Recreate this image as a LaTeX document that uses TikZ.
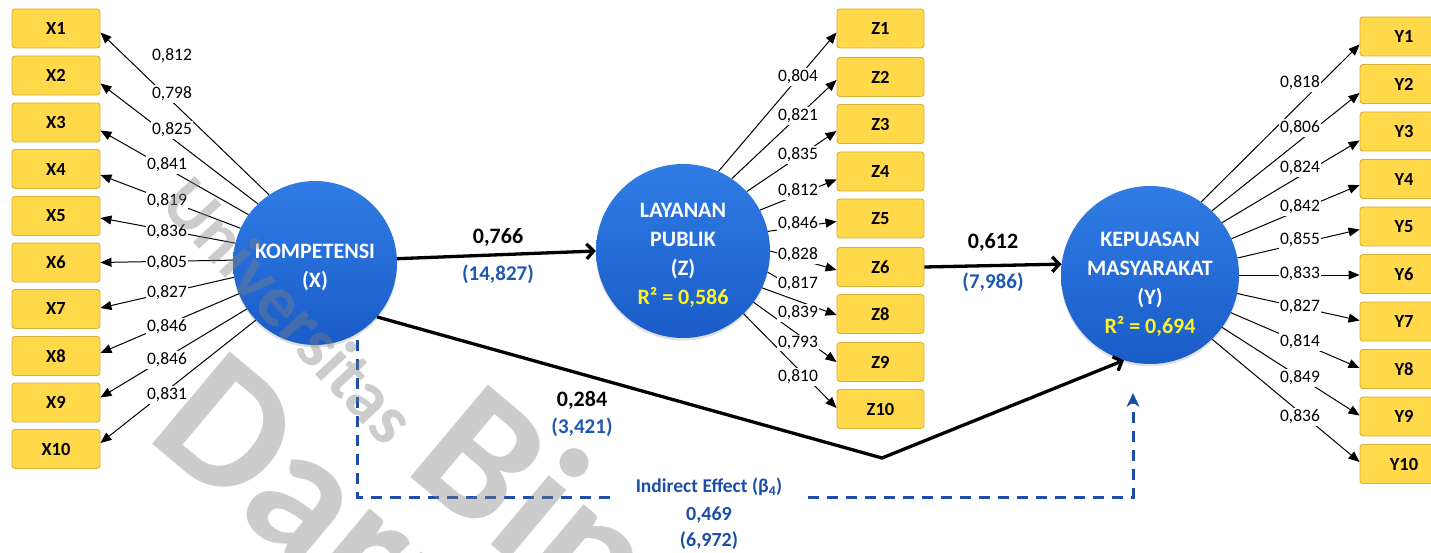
\documentclass[tikz,border=0pt]{standalone}
\usepackage{fontspec}
\setmainfont{Carlito}
\usetikzlibrary{arrows.meta,calc,shadows}

\definecolor{boxfill}{RGB}{255,217,74}
\definecolor{boxedge}{RGB}{214,176,52}
\definecolor{ballblue}{RGB}{26,92,200}
\definecolor{balltop}{RGB}{48,124,228}
\definecolor{pathblue}{RGB}{28,78,168}
\definecolor{tvalblue}{RGB}{30,88,178}
\definecolor{rsqyellow}{RGB}{255,242,40}

\begin{document}
\begin{tikzpicture}[x=1pt,y=-1pt,
  indbox/.style={rectangle, draw=boxedge, fill=boxfill, line width=0.9pt,
    rounded corners=3pt, minimum width=88pt, minimum height=39pt, inner sep=0pt,
    font=\fontsize{18.5}{18.5}\selectfont\bfseries},
  lat/.style={circle, inner sep=0pt, top color=balltop, bottom color=ballblue,
    drop shadow={opacity=0.25, shadow xshift=0pt, shadow yshift=-2.5pt}},
  lattxt/.style={text=white, align=center, font=\fontsize{22}{29}\selectfont\bfseries},
  ldg/.style={fill=white, inner sep=1.5pt, font=\fontsize{17.5}{17.5}\selectfont},
  loadarrow/.style={line width=1pt, -{Triangle[length=11pt,width=9pt]}},
  loadline/.style={line width=1pt},
  pathline/.style={line width=3.3pt, -{Straight Barb[length=7pt,width=15pt]}},
  coef/.style={font=\fontsize{22}{22}\selectfont\bfseries},
  tval/.style={text=tvalblue, font=\fontsize{21}{21}\selectfont\bfseries},
  indir/.style={draw=pathblue, line width=3pt, dash pattern=on 11pt off 8pt,
    -{Stealth[length=14pt,width=13pt]}},
  wmark/.style={text=black!50, text opacity=0.4, inner sep=0pt}
]
\useasboundingbox (0,0) rectangle (1431,553);
\clip (0,0) rectangle (1431,553);
\fill[white] (0,0) rectangle (1431,553);

% latent constructs
\node[lat, minimum size=164pt] (kx) at (315,263) {};
\node[lat, minimum size=174pt] (lz) at (683,251) {};
\node[lat, minimum size=178pt] (ky) at (1150,275) {};
\node[lattxt] (kxt) at (315,267.5) {KOMPETENSI\\(X)};
\node[lattxt] (lzt) at (683,255.5) {LAYANAN\\PUBLIK\\(Z)\\\textcolor{rsqyellow}{R² = 0,586}};
\node[lattxt] (kyt) at (1150,284) {KEPUASAN\\MASYARAKAT\\(Y)\\\textcolor{rsqyellow}{R² = 0,694}};

% indicators
\foreach \i/\yy in {1/28.5,2/75.5,3/122.5,4/169,5/216,6/262.5,7/309,8/356,9/402.5,10/449}
  \node[indbox] (x\i) at (56,\yy) {X\i};
\foreach \i/\yy in {1/28.5,2/77,3/124,4/171.5,5/218.5,6/267,8/314,9/362,10/409}
  \node[indbox, minimum width=87pt] (z\i) at (880.5,\yy) {Z\i};
\foreach \i/\yy in {1/36.5,2/84,3/131.5,4/179,5/226.5,6/274,7/321.5,8/369,9/416.5,10/464}
  \node[indbox] (y\i) at (1404,\yy) {Y\i};
\coordinate (z7end) at (800,291);

% outer loadings
\foreach \i/\a/\o in {1/124/4,2/134/8,3/144/8,4/155/6,5/166/2,6/178/0,7/190/-1,8/202/-3,9/214/-5,10/224/-6}
  \draw[loadarrow] (kx.\a) -- ($(x\i.east)+(0,\o)$);
\foreach \i/\a/\o in {1/66/4,2/56/3,3/43/7,4/28/8,5/13/3,6/0/3,8/-25/1,9/-36/0,10/-46/-1}
  \draw[loadarrow] (lz.\a) -- ($(z\i.west)+(0,\o)$);
\draw[loadline] (lz.-14) -- (z7end);
\foreach \i/\a/\o in {1/55/8,2/46/9,3/36/9,4/24/6,5/11/3,6/0/1,7/-12/-1,8/-25/-1,9/-36/-1,10/-46/-2}
  \draw[loadarrow] (ky.\a) -- ($(y\i.west)+(0,\o)$);

% loading values
\node[ldg] (lx1) at (172,56) {0,812};
\node[ldg] (lx2) at (172,94) {0,798};
\node[ldg] (lx3) at (172,130) {0,825};
\node[ldg] (lx4) at (167,165) {0,841};
\node[ldg] (lx5) at (167,201) {0,819};
\node[ldg] (lx6) at (167,232) {0,836};
\node[ldg] (lx7) at (167,263) {0,805};
\node[ldg] (lx8) at (167,293) {0,827};
\node[ldg] (lx9) at (167,327) {0,846};
\node[ldg] (lx10) at (167,360) {0,846};
\node[ldg] (lx11) at (167,395) {0,831};

\node[ldg] (lz1) at (798,77) {0,804};
\node[ldg] (lz2) at (798,116) {0,821};
\node[ldg] (lz3) at (798,155) {0,835};
\node[ldg] (lz4) at (798,191) {0,812};
\node[ldg] (lz5) at (798,224) {0,846};
\node[ldg] (lz6) at (798,255) {0,828};
\node[ldg] (lz7) at (798,284) {0,817};
\node[ldg] (lz8) at (798,313) {0,839};
\node[ldg] (lz9) at (798,343) {0,793};
\node[ldg] (lz10) at (798,377) {0,810};

\node[ldg] (ly1) at (1300,83) {0,818};
\node[ldg] (ly2) at (1300,128) {0,806};
\node[ldg] (ly3) at (1300,168) {0,824};
\node[ldg] (ly4) at (1300,207) {0,842};
\node[ldg] (ly5) at (1300,240) {0,855};
\node[ldg] (ly6) at (1300,274) {0,833};
\node[ldg] (ly7) at (1300,307) {0,827};
\node[ldg] (ly8) at (1300,342) {0,814};
\node[ldg] (ly9) at (1300,378) {0,849};
\node[ldg] (ly10) at (1300,417) {0,836};

% structural paths
\draw[pathline] (kx.3) -- (lz.180);
\draw[pathline] (z6.east) -- (ky.173);
\coordinate (bend) at (882,458);
\draw[pathline] (kx.-41) -- (bend) -- (ky.-107);

\node[coef] (c1) at (498,237) {0,766};
\node[tval] (t1) at (498,274) {(14,827)};
\node[coef] (c2) at (993,242) {0,612};
\node[tval] (t2) at (993,282) {(7,986)};
\node[coef] (c3) at (582,400) {0,284};
\node[tval] (t3) at (582,427) {(3,421)};

% mediated path
\coordinate (dtop) at (357,340);
\coordinate (dleft) at (357,497);
\coordinate (dright) at (1133,497);
\coordinate (dtip) at (1133,393);
\draw[indir] (dtop) -- (dleft) -- (dright) -- (dtip);
\node[fill=white, inner xsep=22pt, inner ysep=3pt, text=pathblue,
  font=\fontsize{19.5}{19.5}\selectfont\bfseries] (ie) at (709,487)
  {Indirect Effect (β\textsubscript{4})};
\node[text=pathblue, font=\fontsize{20}{20}\selectfont\bfseries] (ie1) at (709,515) {0,469};
\node[text=pathblue, font=\fontsize{20}{20}\selectfont\bfseries] (ie2) at (709,541) {(6,972)};

% watermark
\node[wmark, rotate=-47, font=\fontsize{72}{72}\selectfont\bfseries] (wm1) at (290,310) {Universitas};
\node[wmark, rotate=-40, anchor=base west, font=\fontsize{186}{186}\selectfont\bfseries] (wm2) at (402,470) {Bina};
\node[wmark, rotate=-40, anchor=base west, font=\fontsize{186}{186}\selectfont\bfseries] (wm3) at (144,437) {Darma};
\end{tikzpicture}
\end{document}
